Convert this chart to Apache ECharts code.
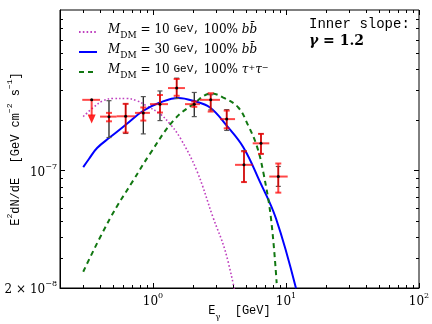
<!DOCTYPE html>
<html>
<head>
<meta charset="utf-8">
<script src="https://cdn.jsdelivr.net/npm/echarts@6/dist/echarts.min.js"></script>
<style>
html,body{margin:0;padding:0;background:#fff;}
#chart{width:432px;height:324px;}
</style>
</head>
<body>
<div id="chart"></div>
<script>
// model curves (E in GeV, E^2 dN/dE)
var magE=[0.299,0.356,0.423,0.503,0.634,0.754,0.897,1.129,1.342,1.596,2.131,2.826,3.478,4.10];
var magF=[2.09e-7,2.37e-7,2.60e-7,2.68e-7,2.68e-7,2.60e-7,2.42e-7,2.17e-7,1.89e-7,1.57e-7,1.0e-7,5.27e-8,3.36e-8,1.95e-8];
var bluE=[0.299,0.33,0.38,0.475,0.634,0.846,1.129,1.55,2.009,2.683,3.583,4.775,6.298,8.41,11.89];
var bluF=[1.046e-7,1.17e-7,1.36e-7,1.574e-7,1.889e-7,2.265e-7,2.536e-7,2.70e-7,2.596e-7,2.369e-7,1.846e-7,1.374e-7,8.73e-8,5.18e-8,1.99e-8];
var grnE=[0.299,0.475,0.711,0.949,1.421,2.009,2.75,3.378,4.379,5.206,6.02,6.75,7.715,8.51];
var grnF=[2.50e-8,5.18e-8,8.73e-8,1.255e-7,1.976e-7,2.481e-7,2.87e-7,2.715e-7,2.369e-7,1.846e-7,1.406e-7,9.77e-8,5.18e-8,2.14e-8];

// data points
var ptE  =[0.467,0.623,0.846,1.129,1.507,2.044,2.716,3.583,4.832,6.486,8.753];
var ptLoE=[0.400,0.533,0.732,0.949,1.297,1.740,2.256,3.19,4.14,5.62,7.49];
var ptHiE=[0.533,0.732,0.949,1.297,1.740,2.256,3.19,4.14,5.62,7.49,10.3];
var ptF  =[2.09e-7,2.10e-7,2.20e-7,2.48e-7,3.09e-7,2.48e-7,2.63e-7,2.02e-7,1.08e-7,1.45e-7,9.2e-8];
var redLo=[1.96e-7,1.68e-7,1.98e-7,2.21e-7,2.78e-7,2.39e-7,2.24e-7,1.78e-7,8.53e-8,1.255e-7,7.38e-8];
var redHi=[2.20e-7,2.49e-7,2.37e-7,2.81e-7,3.50e-7,2.57e-7,2.88e-7,2.27e-7,1.30e-7,1.65e-7,1.10e-7];
var blkLo=[1.57e-7,1.66e-7,1.65e-7,1.98e-7,2.68e-7,2.09e-7,2.29e-7,1.73e-7,8.53e-8,1.255e-7,8.04e-8];
var blkHi=[2.60e-7,2.49e-7,2.75e-7,2.97e-7,3.54e-7,2.91e-7,2.82e-7,2.30e-7,1.31e-7,1.655e-7,1.056e-7];

// upper limit (first bin)
var ulE=[0.346], ulLoE=[0.294], ulHiE=[0.400], ulF=[2.63e-7], ulTip=[1.90e-7];

// ticks and labels
var xMajor=[1,10,100];
var xMinor=[0.3,0.4,0.5,0.6,0.7,0.8,0.9,2,3,4,5,6,7,8,9,20,30,40,50,60,70,80,90];
var yMajor=[1e-7];
var yMinor=[3e-8,4e-8,5e-8,6e-8,7e-8,8e-8,9e-8,2e-7,3e-7,4e-7,5e-7,6e-7,7e-7,8e-7];
var xLabelVals=[1,10,100], xLabelExp=['0','1','2'];
var yLabelVals=[2e-8,1e-7], yLabelMant=['2 × 10','10'], yLabelExp=['−8','−7'];

var legendText={
    mag:'{m|M}{sub|DM}{r| = 10 }{t|GeV,}{r| 100% }{m|bb\u0304}',
    blue:'{m|M}{sub|DM}{r| = 30 }{t|GeV,}{r| 100% }{m|bb\u0304}',
    green:'{m|M}{sub|DM}{r| = 10 }{t|GeV,}{r| 100% }{m|τ}{sup|+}{m|τ}{sup|−}'
};

function pairs(a,b){
    return a.map(function(v,i){return [v,b[i]];});
}

function xFmt(v){
    for(var i=0;i<xLabelVals.length;i++){
        if(Math.abs(v/xLabelVals[i]-1)<1e-3) return '{n|10}{s|'+xLabelExp[i]+'}';
    }
    return '';
}
function yFmt(v){
    for(var i=0;i<yLabelVals.length;i++){
        if(Math.abs(v/yLabelVals[i]-1)<1e-3) return '{n|'+yLabelMant[i]+'}{s|'+yLabelExp[i]+'}';
    }
    return '';
}

var tickData=[];
xMajor.forEach(function(v){tickData.push([v,1e-7,0,5]);});
xMinor.forEach(function(v){tickData.push([v,1e-7,0,3]);});
yMajor.forEach(function(v){tickData.push([1,v,1,5]);});
yMinor.forEach(function(v){tickData.push([1,v,1,3]);});

function renderTick(params,api){
    var cs=params.coordSys;
    var len=api.value(3);
    var p=api.coord([api.value(0),api.value(1)]);
    var st={stroke:'#000',lineWidth:1};
    if(api.value(2)===0){
        var x=Math.round(p[0])+0.5, b=cs.y+cs.height;
        return {type:'group',children:[
            {type:'line',shape:{x1:x,y1:b,x2:x,y2:b-len},style:st},
            {type:'line',shape:{x1:x,y1:cs.y,x2:x,y2:cs.y+len},style:st}
        ]};
    }
    var y=Math.round(p[1])+0.5, r=cs.x+cs.width;
    return {type:'group',children:[
        {type:'line',shape:{x1:cs.x,y1:y,x2:cs.x+len,y2:y},style:st},
        {type:'line',shape:{x1:r,y1:y,x2:r-len,y2:y},style:st}
    ]};
}

function renderBlack(params,api){
    var c=api.coord([api.value(0),api.value(1)]);
    var lo=api.coord([api.value(0),api.value(2)]);
    var hi=api.coord([api.value(0),api.value(3)]);
    var st={stroke:'#222',lineWidth:1.3};
    var cap=2.5;
    return {type:'group',children:[
        {type:'line',shape:{x1:c[0],y1:hi[1],x2:c[0],y2:lo[1]},style:st},
        {type:'line',shape:{x1:c[0]-cap,y1:hi[1],x2:c[0]+cap,y2:hi[1]},style:{stroke:'#555',lineWidth:1.2}},
        {type:'line',shape:{x1:c[0]-cap,y1:lo[1],x2:c[0]+cap,y2:lo[1]},style:{stroke:'#555',lineWidth:1.2}}
    ]};
}

function renderRed(params,api){
    var c=api.coord([api.value(0),api.value(1)]);
    var l=api.coord([api.value(2),api.value(1)]);
    var r=api.coord([api.value(3),api.value(1)]);
    var lo=api.coord([api.value(0),api.value(4)]);
    var hi=api.coord([api.value(0),api.value(5)]);
    var st={stroke:'rgba(255,0,0,0.72)',lineWidth:2};
    var cap=3;
    return {type:'group',children:[
        {type:'line',shape:{x1:l[0],y1:c[1],x2:r[0],y2:c[1]},style:st},
        {type:'line',shape:{x1:c[0],y1:hi[1],x2:c[0],y2:lo[1]},style:st},
        {type:'line',shape:{x1:c[0]-cap,y1:hi[1],x2:c[0]+cap,y2:hi[1]},style:st},
        {type:'line',shape:{x1:c[0]-cap,y1:lo[1],x2:c[0]+cap,y2:lo[1]},style:st},
        {type:'circle',shape:{cx:c[0],cy:c[1],r:1.5},style:{fill:'#000'}}
    ]};
}

function renderUL(params,api){
    var c=api.coord([api.value(0),api.value(1)]);
    var l=api.coord([api.value(2),api.value(1)]);
    var r=api.coord([api.value(3),api.value(1)]);
    var t=api.coord([api.value(0),api.value(4)]);
    var st={stroke:'rgba(255,0,0,0.72)',lineWidth:2};
    return {type:'group',children:[
        {type:'line',shape:{x1:l[0],y1:c[1],x2:r[0],y2:c[1]},style:st},
        {type:'line',shape:{x1:c[0],y1:c[1],x2:c[0],y2:t[1]-8},style:st},
        {type:'polygon',shape:{points:[[c[0]-4,t[1]-9],[c[0]+4,t[1]-9],[c[0],t[1]]]},style:{fill:'rgba(255,0,0,0.85)'}},
        {type:'circle',shape:{cx:c[0],cy:c[1],r:1.5},style:{fill:'#000'}}
    ]};
}

var chart=echarts.init(document.getElementById('chart'));
var option={
    animation:false,
    backgroundColor:'#fff',
    grid:{left:60,right:13,top:10,bottom:36,show:true,borderColor:'#000',borderWidth:1,containLabel:false,outerBoundsMode:'none'},
    legend:{
        left:73,top:19,orient:'vertical',itemWidth:18,itemHeight:14,itemGap:4,
        selectedMode:false,
        data:['mag','blue','green'],
        itemStyle:{opacity:0},
        formatter:function(n){return legendText[n];},
        textStyle:{
            padding:[0,0,0,6],
            rich:{
                m:{fontFamily:'DejaVu Serif',fontStyle:'italic',fontSize:12,color:'#000',lineHeight:16,verticalAlign:'top'},
                r:{fontFamily:'DejaVu Serif',fontSize:12,color:'#000',lineHeight:16,verticalAlign:'top'},
                t:{fontFamily:'Liberation Mono',fontSize:11,color:'#000',lineHeight:16,verticalAlign:'top'},
                sub:{fontFamily:'DejaVu Serif',fontSize:9,color:'#000',lineHeight:10,verticalAlign:'bottom'},
                sup:{fontFamily:'DejaVu Serif',fontStyle:'italic',fontSize:8,color:'#000',lineHeight:10,verticalAlign:'top'}
            }
        }
    },
    xAxis:{
        type:'log',logBase:10,min:0.2,max:100,
        axisLine:{show:true,lineStyle:{color:'#000',width:1}},
        axisTick:{show:false},splitLine:{show:false},
        axisLabel:{margin:4,formatter:xFmt,rich:{
            n:{fontFamily:'DejaVu Serif',fontSize:12,color:'#000',lineHeight:16,verticalAlign:'bottom'},
            s:{fontFamily:'DejaVu Serif',fontSize:8,color:'#000',lineHeight:10,verticalAlign:'top'}
        }},
        name:'{e|E}{g|γ}{e|  [GeV]}',nameLocation:'middle',nameGap:17,nameMoveOverlap:false,
        nameTextStyle:{rich:{
            e:{fontFamily:'Liberation Mono',fontSize:12,color:'#000',lineHeight:16,verticalAlign:'top'},
            g:{fontFamily:'DejaVu Serif',fontSize:8,color:'#000',lineHeight:10,verticalAlign:'bottom'}
        }}
    },
    yAxis:{
        type:'log',logBase:10,min:2e-8,max:9e-7,
        axisLine:{show:true,lineStyle:{color:'#000',width:1}},
        axisTick:{show:false},splitLine:{show:false},
        axisLabel:{margin:3,formatter:yFmt,rich:{
            n:{fontFamily:'DejaVu Serif',fontSize:12,color:'#000',lineHeight:16,verticalAlign:'bottom'},
            s:{fontFamily:'DejaVu Serif',fontSize:8,color:'#000',lineHeight:10,verticalAlign:'top'}
        }},
        name:'{e|E}{s|2}{e|dN/dE  [GeV cm}{s|−2}{e| s}{s|−1}{e|]}',nameLocation:'middle',nameGap:38,nameMoveOverlap:false,
        nameTextStyle:{rich:{
            e:{fontFamily:'Liberation Mono',fontSize:12,color:'#000',lineHeight:16,verticalAlign:'bottom'},
            s:{fontFamily:'Liberation Mono',fontSize:8,color:'#000',lineHeight:10,verticalAlign:'top'}
        }}
    },
    graphic:[
        {type:'text',left:309,top:17,style:{text:'Inner slope:',font:'14px "Liberation Mono"',fill:'#000'}},
        {type:'text',left:309,top:34,style:{
            text:'{g|γ}{n| = 1.2}',
            rich:{
                g:{fontFamily:'DejaVu Serif',fontStyle:'italic',fontWeight:'bold',fontSize:14,fill:'#000'},
                n:{fontFamily:'DejaVu Serif',fontWeight:'bold',fontSize:14,fill:'#000'}
            }
        }}
    ],
    series:[
        {name:'mag',type:'line',data:pairs(magE,magF),symbol:'none',smooth:0.4,z:2,
            lineStyle:{color:'#bf40bf',width:1.6,type:[1.6,2.2]},itemStyle:{color:'#bf40bf'}},
        {name:'blue',type:'line',data:pairs(bluE,bluF),symbol:'none',smooth:0.4,z:2,
            lineStyle:{color:'#0000ff',width:2},itemStyle:{color:'#0000ff'}},
        {name:'green',type:'line',data:pairs(grnE,grnF),symbol:'none',smooth:0.4,z:2,
            lineStyle:{color:'#117711',width:2,type:[5,4]},itemStyle:{color:'#117711'}},
        {type:'custom',z:3,clip:false,renderItem:renderBlack,encode:{x:0,y:[1,2,3]},
            data:ptE.map(function(e,i){return [e,ptF[i],blkLo[i],blkHi[i]];})},
        {type:'custom',z:4,clip:false,renderItem:renderRed,encode:{x:[0,2,3],y:[1,4,5]},
            data:ptE.map(function(e,i){return [e,ptF[i],ptLoE[i],ptHiE[i],redLo[i],redHi[i]];})},
        {type:'custom',z:4,clip:false,renderItem:renderUL,encode:{x:[0,2,3],y:[1,4]},
            data:ulE.map(function(e,i){return [e,ulF[i],ulLoE[i],ulHiE[i],ulTip[i]];})},
        {type:'custom',z:5,clip:false,silent:true,renderItem:renderTick,encode:{x:0,y:1},data:tickData}
    ]
};
chart.setOption(option);
</script>
</body>
</html>
